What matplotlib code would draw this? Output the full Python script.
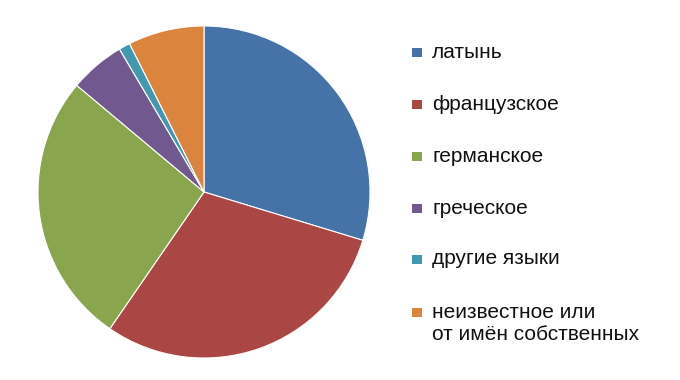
import matplotlib
matplotlib.use("Agg")
import matplotlib.pyplot as plt
from matplotlib.patches import Rectangle

categories = ["латынь", "французское", "германское", "греческое", "другие языки",
              "неизвестное или\nот имён собственных"]
values = [29.7, 29.9, 26.5, 5.4, 1.1, 7.4]
colors = ["#4572A7", "#AA4643", "#89A54E", "#71588F", "#4198AF", "#DB843D"]

plt.rcParams['font.family'] = ['Liberation Sans', 'DejaVu Sans']

W, H = 680, 380
fig = plt.figure(figsize=(W / 100, H / 100), dpi=100)
cx, cy, r = 204, 192, 166
ax = fig.add_axes([(cx - r) / W, (H - cy - r) / H, 2 * r / W, 2 * r / H])
wedges, _ = ax.pie(values, colors=colors, startangle=90, counterclock=False,
                   wedgeprops=dict(edgecolor="white", linewidth=0.8))
ax.set_xlim(-1, 1)
ax.set_ylim(-1, 1)
ax.set_aspect("equal")
ax.axis("off")

rows_y = [52, 104, 156, 208, 259, 312]
for w, label, y in zip(wedges, categories, rows_y):
    fig.patches.append(Rectangle((412 / W, (H - y - 4.5) / H), 10 / W, 9 / H,
                                 transform=fig.transFigure, facecolor=w.get_facecolor(),
                                 edgecolor="none"))
    lines = label.split("\n")
    for i, line in enumerate(lines):
        fig.text(432 / W, (H - y - i * 22) / H, line, fontsize=15, va="center",
                 ha="left", color="#111111")

fig.savefig("out.png", dpi=100)
